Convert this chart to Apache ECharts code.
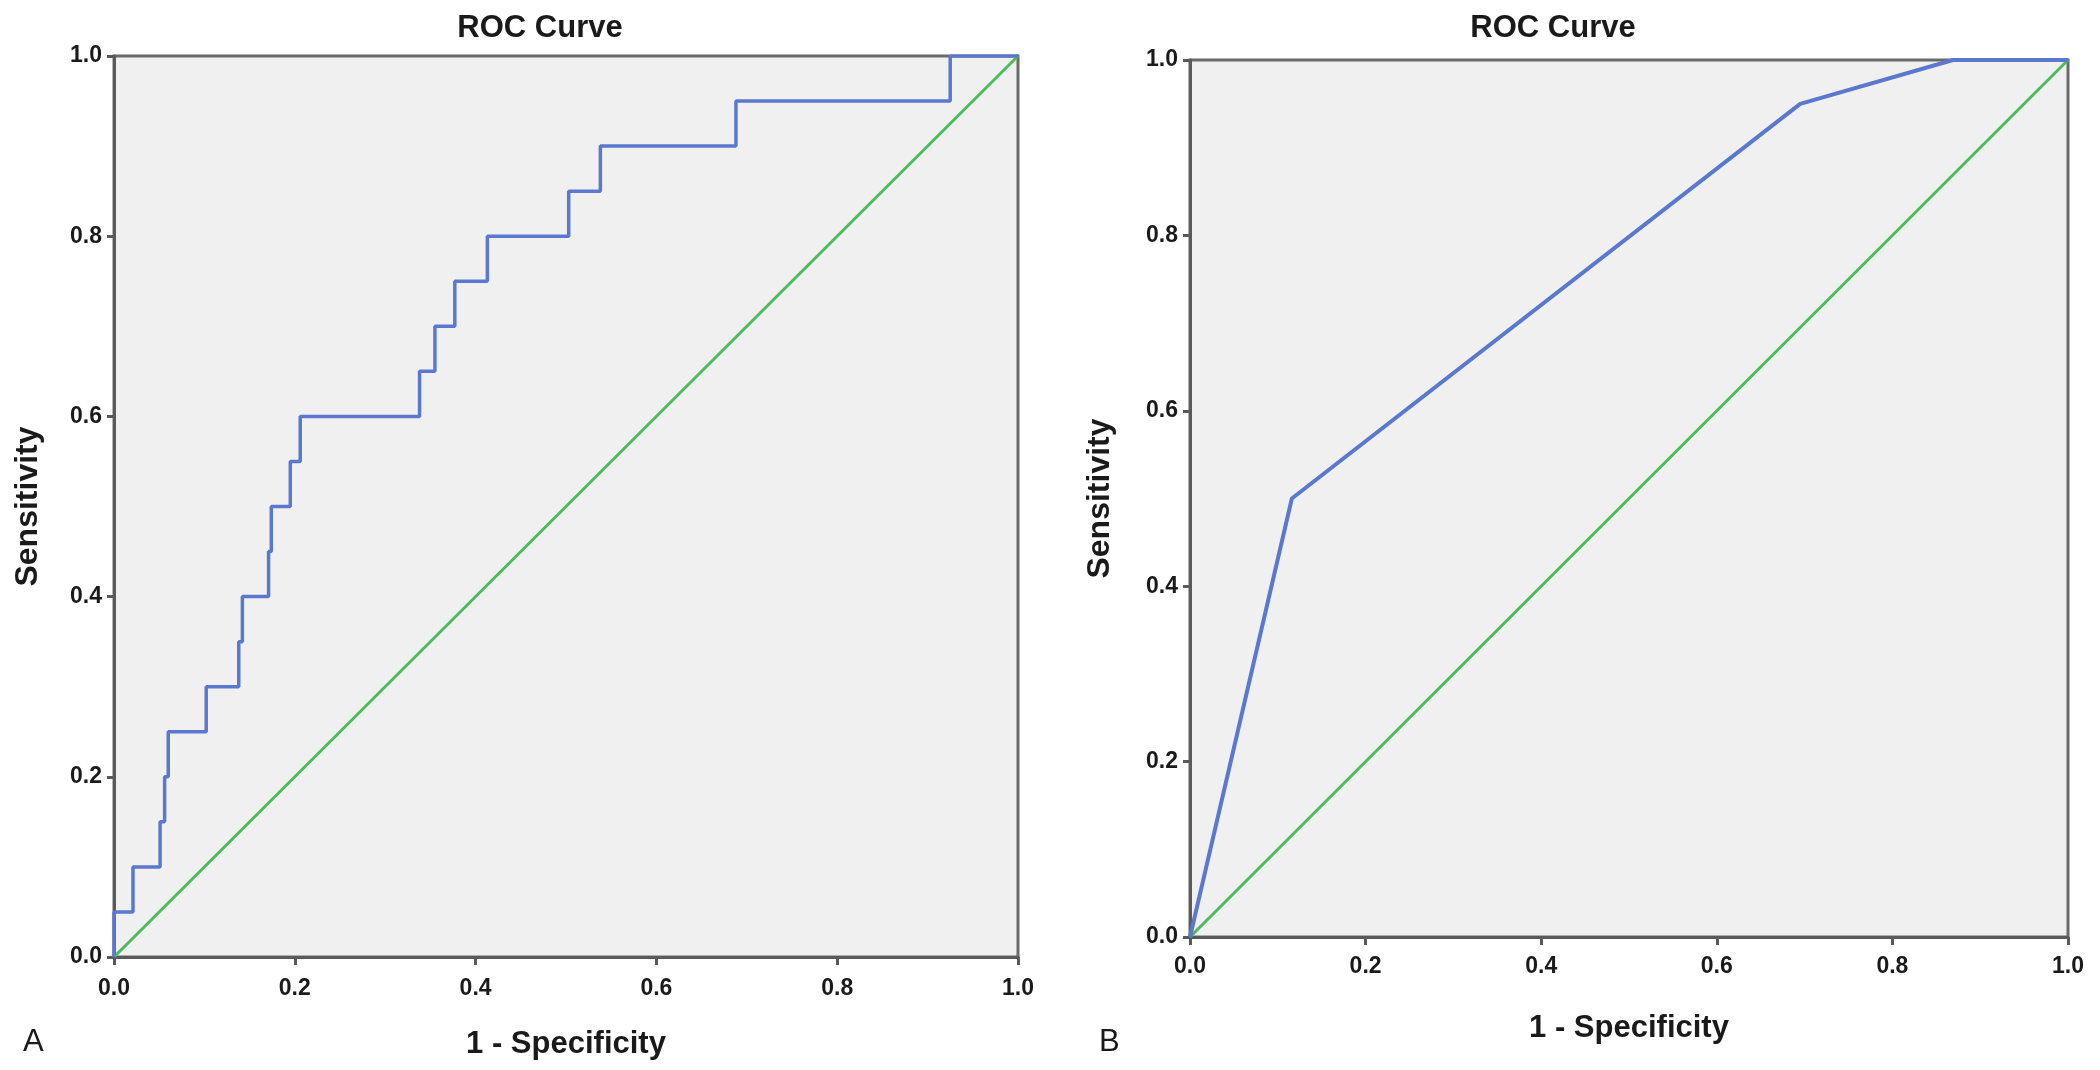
<!DOCTYPE html>
<html>
<head>
<meta charset="utf-8">
<script src="https://cdn.jsdelivr.net/npm/echarts@6/dist/echarts.min.js"></script>
<style>
html,body{margin:0;padding:0;background:#fff;}
#chart{width:2100px;height:1070px;}
</style>
</head>
<body>
<div id="chart"></div>
<script>
// Panel A: ROC curve coordinates (1 - Specificity, Sensitivity)
const fprA = [0, 0, 0.021, 0.021, 0.051, 0.051, 0.056, 0.056, 0.060, 0.060, 0.102, 0.102, 0.138, 0.138, 0.142, 0.142, 0.171, 0.171, 0.174, 0.174, 0.195, 0.195, 0.206, 0.206, 0.338, 0.338, 0.355, 0.355, 0.377, 0.377, 0.413, 0.413, 0.503, 0.503, 0.538, 0.538, 0.688, 0.688, 0.925, 0.925, 1.0];
const tprA = [0, 0.05, 0.05, 0.10, 0.10, 0.15, 0.15, 0.20, 0.20, 0.25, 0.25, 0.30, 0.30, 0.35, 0.35, 0.40, 0.40, 0.45, 0.45, 0.50, 0.50, 0.55, 0.55, 0.60, 0.60, 0.65, 0.65, 0.70, 0.70, 0.75, 0.75, 0.80, 0.80, 0.85, 0.85, 0.90, 0.90, 0.95, 0.95, 1.0, 1.0];
// Panel B: ROC curve coordinates
const fprB = [0, 0.116, 0.695, 0.869, 1.0];
const tprB = [0, 0.50, 0.95, 1.0, 1.0];
// Reference (chance) diagonal
const refX = [0, 1];
const refY = [0, 1];
// Axis ticks
const tickMin = 0, tickMax = 1, tickStep = 0.2;
const panelTitles = ['ROC Curve', 'ROC Curve'];
const panelLetters = ['A', 'B'];
const xName = '1 - Specificity';
const yName = 'Sensitivity';

const FONT = '"Liberation Sans", Arial, sans-serif';
const BLUE = '#5b78cf';
const GREEN = '#4dbb5e';
const AXIS = '#5a5a5a';

function pts(xs, ys) { return xs.map((x, i) => [x, ys[i]]); }

const grids = [
  {left: 114, top: 56, width: 904, height: 901},
  {left: 1190, top: 60, width: 878, height: 877}
];

function xAxisCfg(gi, gap, margin) {
  return {
    gridIndex: gi, type: 'value', min: tickMin, max: tickMax, interval: tickStep,
    name: xName, nameLocation: 'middle', nameGap: gap,
    nameTextStyle: {fontFamily: FONT, fontWeight: 'bold', fontSize: 31, color: '#1a1a1a'},
    axisLine: {show: true, onZero: false, lineStyle: {color: AXIS, width: 3}},
    axisTick: {show: true, inside: false, length: 8, lineStyle: {color: AXIS, width: 3}},
    axisLabel: {fontFamily: FONT, fontWeight: 'bold', fontSize: 23, color: '#1a1a1a', margin: margin,
      formatter: v => v.toFixed(1)},
    splitLine: {show: false}
  };
}
function yAxisCfg(gi, gap) {
  return {
    gridIndex: gi, type: 'value', min: tickMin, max: tickMax, interval: tickStep,
    name: yName, nameLocation: 'middle', nameGap: gap, nameRotate: 90,
    nameTextStyle: {fontFamily: FONT, fontWeight: 'bold', fontSize: 32, color: '#1a1a1a'},
    axisLine: {show: true, onZero: false, lineStyle: {color: AXIS, width: 3}},
    axisTick: {show: true, inside: false, length: 7, lineStyle: {color: AXIS, width: 3}},
    axisLabel: {fontFamily: FONT, fontWeight: 'bold', fontSize: 23, color: '#1a1a1a', margin: 12,
      formatter: v => v.toFixed(1)},
    splitLine: {show: false}
  };
}

const option = {
  backgroundColor: '#ffffff',
  animation: false,
  title: [
    {text: panelTitles[0], left: 535, top: 8, textAlign: 'center',
      textStyle: {fontFamily: FONT, fontWeight: 'bold', fontSize: 31, color: '#1a1a1a'}},
    {text: panelTitles[1], left: 1548, top: 8, textAlign: 'center',
      textStyle: {fontFamily: FONT, fontWeight: 'bold', fontSize: 31, color: '#1a1a1a'}},
    {text: panelLetters[0], left: 18, top: 1022,
      textStyle: {fontFamily: FONT, fontWeight: 'normal', fontSize: 31, color: '#1a1a1a'}},
    {text: panelLetters[1], left: 1094, top: 1022,
      textStyle: {fontFamily: FONT, fontWeight: 'normal', fontSize: 31, color: '#1a1a1a'}}
  ],
  grid: grids.map(g => Object.assign({show: true, backgroundColor: '#f0f0f0', borderColor: '#6a6a6a', borderWidth: 3}, g)),
  xAxis: [xAxisCfg(0, 72, 20), xAxisCfg(1, 76, 18)],
  yAxis: [yAxisCfg(0, 70), yAxisCfg(1, 74)],
  series: [
    {type: 'line', xAxisIndex: 0, yAxisIndex: 0, data: pts(refX, refY), symbol: 'none',
      lineStyle: {color: GREEN, width: 3}, z: 3},
    {type: 'line', xAxisIndex: 0, yAxisIndex: 0, data: pts(fprA, tprA), symbol: 'none',
      lineStyle: {color: BLUE, width: 3.5}, z: 4},
    {type: 'line', xAxisIndex: 1, yAxisIndex: 1, data: pts(refX, refY), symbol: 'none',
      lineStyle: {color: GREEN, width: 3}, z: 3},
    {type: 'line', xAxisIndex: 1, yAxisIndex: 1, data: pts(fprB, tprB), symbol: 'none',
      lineStyle: {color: BLUE, width: 4}, z: 4}
  ]
};

const chart = echarts.init(document.getElementById('chart'), null, {renderer: 'canvas'});
chart.setOption(option);
</script>
</body>
</html>
